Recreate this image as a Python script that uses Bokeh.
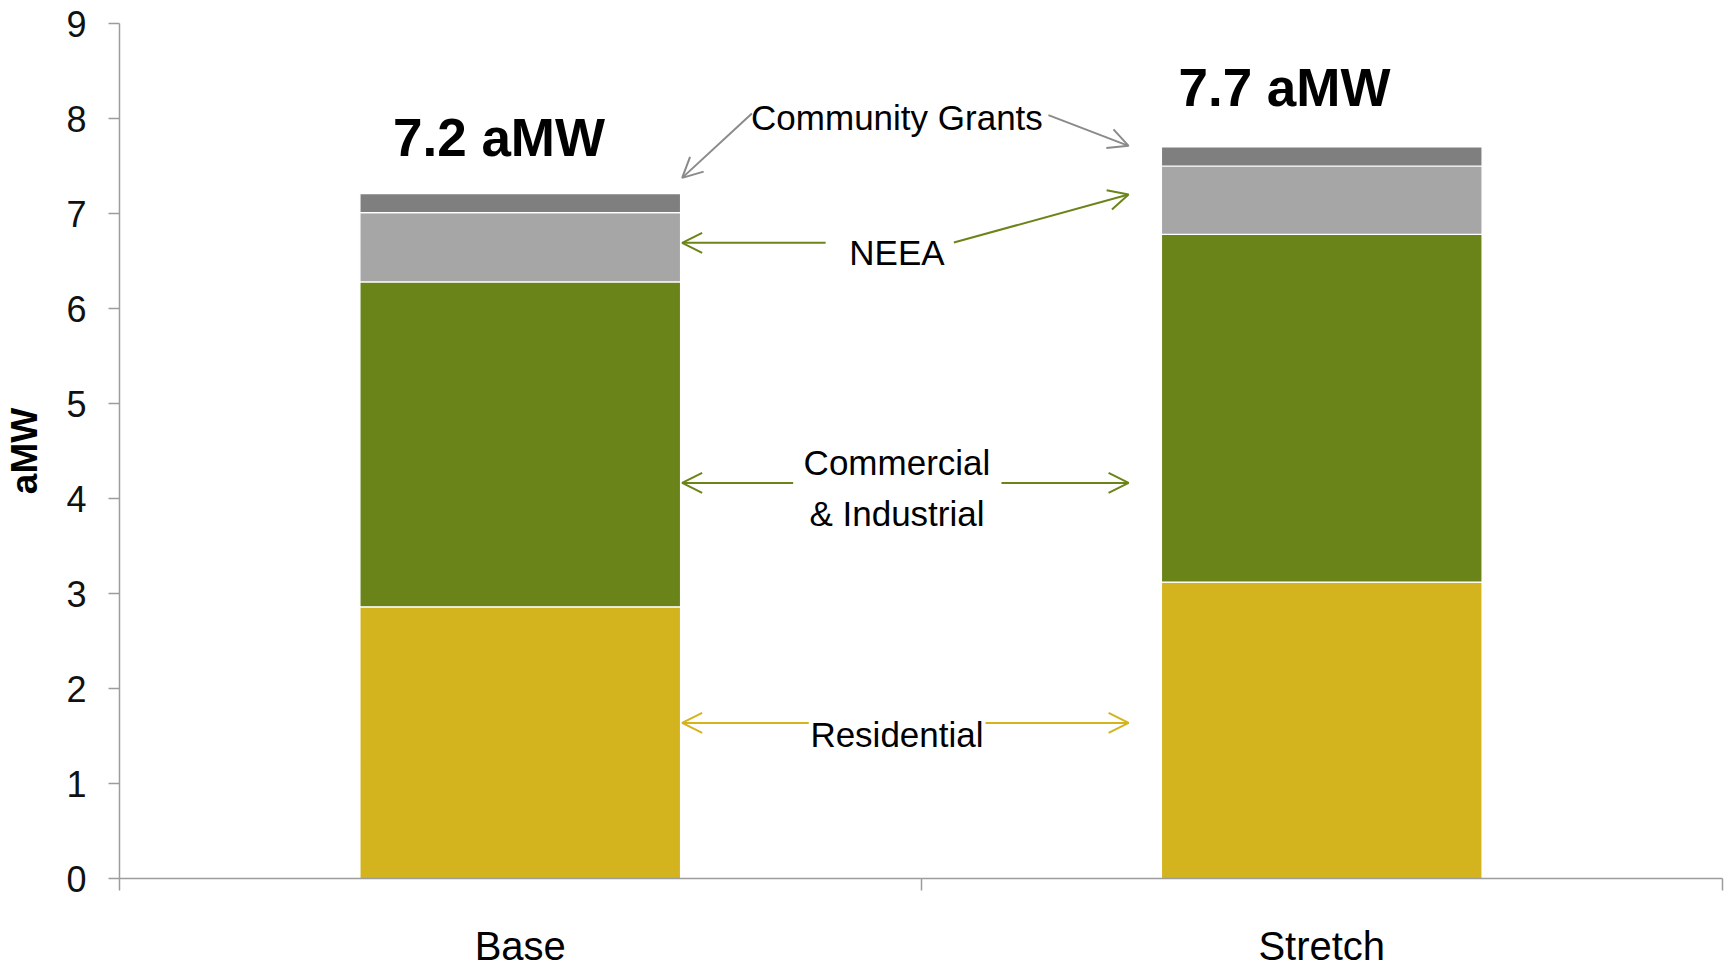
from bokeh.plotting import figure
from bokeh.models import ColumnDataSource, Range1d, FixedTicker, Arrow, OpenHead
from bokeh.core.properties import value
from bokeh.embed import file_html
from bokeh.resources import INLINE

# ---- data ----
scenarios = ["Base", "Stretch"]
sector_names = ["Residential", "Commercial & Industrial", "NEEA", "Community Grants"]
residential = [2.86, 3.12]
commercial_industrial = [3.42, 3.66]
neea = [0.73, 0.72]
community_grants = [0.20, 0.20]
y_ticks = [0, 1, 2, 3, 4, 5, 6, 7, 8, 9]
y_axis_title = "aMW"

# ---- styles ----
FONT = "Liberation Sans"
sector_colors = ["#D4B41E", "#6B8419", "#A6A6A6", "#7F7F7F"]
axis_color = "#9C9C9C"
arrow_grey = "#8A8A8A"

x_centers = [i + 0.5 for i in range(len(scenarios))]
boundaries = list(range(len(scenarios) + 1))
totals = [sum(v) for v in zip(residential, commercial_industrial, neea, community_grants)]
total_labels = [f"{t:.1f} aMW" for t in totals]

src = ColumnDataSource(dict(
    x=x_centers,
    residential=residential,
    ci=commercial_industrial,
    neea=neea,
    cg=community_grants,
))

p = figure(width=1729, height=970, x_range=Range1d(0, 2), y_range=Range1d(0, 9),
           output_backend="svg", toolbar_location=None,
           min_border_left=119, min_border_right=7, min_border_top=23, min_border_bottom=92)
p.outline_line_color = None
p.xgrid.visible = False
p.ygrid.visible = False
p.background_fill_color = "white"

p.vbar_stack(["residential", "ci", "neea", "cg"], x="x", width=0.4, source=src,
             fill_color=sector_colors, line_color="white", line_width=1.2)

# total labels
total_label_x = [0.4735, 1.4535]
total_label_y = [7.80, 8.33]
p.text(x=total_label_x, y=total_label_y, text=total_labels,
       text_font=value(FONT), text_font_style="bold", text_font_size="53px",
       text_align="center", text_baseline="alphabetic", text_color="black")

# annotation texts
ann_text = ["Community Grants", "NEEA", "Commercial", "& Industrial", "Residential"]
ann_x = [0.970, 0.970, 0.970, 0.970, 0.970]
ann_y = [8.007, 6.585, 4.374, 3.842, 1.515]
p.text(x=ann_x, y=ann_y, text=ann_text, text_font=value(FONT), text_font_size="35px",
       text_align="center", text_baseline="alphabetic", text_color="black")

# arrows
arrow_groups = [
    (arrow_grey, [0.789, 1.159], [8.053, 8.035], [0.702, 1.259], [7.375, 7.712]),
    (sector_colors[1], [0.881, 1.041, 0.8405, 1.1004], [6.691, 6.695, 4.164, 4.164],
     [0.702, 1.259, 0.702, 1.259], [6.691, 7.20, 4.164, 4.164]),
    (sector_colors[0], [0.860, 1.0805], [1.638, 1.638], [0.702, 1.259], [1.638, 1.638]),
]
for col, xs, ys, xe, ye in arrow_groups:
    asrc = ColumnDataSource(dict(x0=xs, y0=ys, x1=xe, y1=ye))
    p.add_layout(Arrow(x_start="x0", y_start="y0", x_end="x1", y_end="y1", source=asrc,
                       line_color=col, line_width=2,
                       end=OpenHead(size=20, line_color=col, line_width=2)))

# y axis
ya = p.yaxis[0]
ya.ticker = FixedTicker(ticks=y_ticks)
ya.major_tick_out = 11
ya.major_tick_in = 0
ya.minor_tick_out = 0
ya.minor_tick_in = 0
ya.major_label_standoff = 22
ya.major_label_text_font = FONT
ya.major_label_text_font_size = "36px"
ya.major_label_text_color = "#111111"
ya.axis_line_color = axis_color
ya.axis_line_width = 1.5
ya.major_tick_line_color = axis_color
ya.major_tick_line_width = 1.5
ya.axis_label = y_axis_title
ya.axis_label_text_font = FONT
ya.axis_label_text_font_style = "bold"
ya.axis_label_text_font_size = "37px"
ya.axis_label_text_color = "black"
ya.axis_label_standoff = 18

# x axis
xa = p.xaxis[0]
xa.ticker = FixedTicker(ticks=x_centers, minor_ticks=boundaries)
xa.major_label_overrides = {c: s for c, s in zip(x_centers, scenarios)}
xa.major_tick_out = 0
xa.major_tick_in = 0
xa.minor_tick_out = 12
xa.minor_tick_in = 0
xa.minor_tick_line_color = axis_color
xa.minor_tick_line_width = 1.5
xa.axis_line_color = axis_color
xa.axis_line_width = 1.5
xa.major_label_standoff = 33
xa.major_label_text_font = FONT
xa.major_label_text_font_size = "40px"
xa.major_label_text_color = "black"

open("out.html", "w").write(file_html(p, INLINE))
